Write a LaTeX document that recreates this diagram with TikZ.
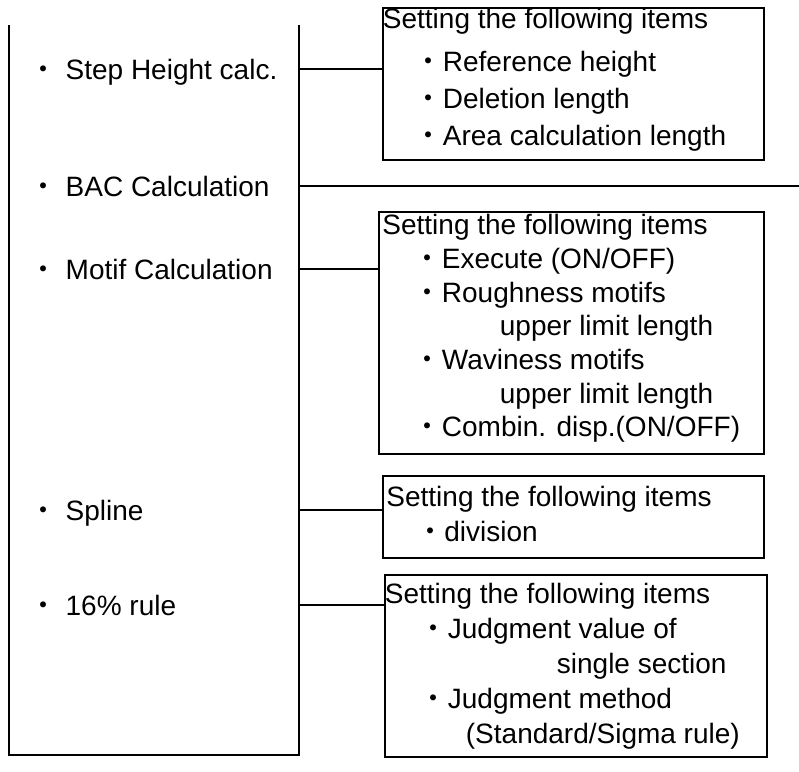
\documentclass[tikz,border=0pt]{standalone}
\usepackage{fontspec}
\setmainfont{Liberation Sans}
\newfontfamily\cjk{Noto Sans CJK JP}
\usetikzlibrary{positioning}
\newcommand{\jdot}{{\cjk ・}}

\begin{document}
\begin{tikzpicture}[x=1pt, y=-1pt, line width=1.8pt,
      every node/.style={inner sep=0pt, font=\fontsize{28}{35}\selectfont},
      item/.style={anchor=west, text height=20pt, text depth=0pt},
      setbox/.style={draw, anchor=north west},
      settxt/.style={anchor=north west, align=left}]
    \useasboundingbox (0,0) rectangle (799,771);
    \coordinate (brL) at (9,25);
    \coordinate (brR) at (299,25);
    \coordinate (BACend) at (799,186);
    \node[item] (SH) at (29,69) {\jdot\ Step Height calc.};
    \node[item] (BAC) at (29,186) {\jdot\ BAC Calculation};
    \node[item] (MC) at (29,269) {\jdot\ Motif Calculation};
    \node[item] (SP) at (29,510) {\jdot\ Spline};
    \node[item] (R16) at (29,605) {\jdot\ 16\% rule};
    \node[setbox, minimum width=381pt, minimum height=152pt] (SHbox) at (382,7) {};
    \node[setbox, minimum width=385pt, minimum height=242pt] (MCbox) at (378,211) {};
    \node[setbox, minimum width=381pt, minimum height=82pt] (SPbox) at (382,475) {};
    \node[setbox, minimum width=382pt, minimum height=182pt] (R16box) at (384,574) {};
    \node[settxt, font=\fontsize{28}{37}\selectfont] (SHtxt) at (SHbox.north west)
      {Setting the following items\\[6pt]
       \hspace*{32pt}\jdot Reference height\\
       \hspace*{32pt}\jdot Deletion length\\
       \hspace*{32pt}\jdot Area calculation length};
    \node[settxt, font=\fontsize{28}{33.7}\selectfont] (MCtxt) at ([xshift=3.5pt, yshift=-2.6pt]MCbox.north west)
      {Setting the following items\\
       \hspace*{31.5pt}\jdot Execute (ON/OFF)\\
       \hspace*{31.5pt}\jdot Roughness motifs\\
       \hspace*{117.5pt}upper limit length\\
       \hspace*{31.5pt}\jdot Waviness motifs\\
       \hspace*{117.5pt}upper limit length\\
       \hspace*{31.5pt}\jdot Combin. disp.(ON/OFF)};
    \node[settxt] (SPtxt) at ([xshift=3.5pt, yshift=-10pt]SPbox.north west)
      {Setting the following items\\
       \hspace*{30pt}\jdot division};
    \node[settxt] (R16txt) at ([yshift=-8.6pt]R16box.north west)
      {Setting the following items\\
       \hspace*{35pt}\jdot Judgment value of\\
       \hspace*{172pt}single section\\
       \hspace*{35pt}\jdot Judgment method\\
       \hspace*{81pt}(Standard/Sigma rule)};
    \draw (brL) -- ++(0,730) -| (brR);
    \draw (SH -| brR) -- (SH -| SHbox.west);
    \draw (BAC -| brR) -- (BACend);
    \draw (MC -| brR) -- (MC -| MCbox.west);
    \draw (SP -| brR) -- (SP -| SPbox.west);
    \draw (R16 -| brR) -- (R16 -| R16box.west);
  \end{tikzpicture}
\end{document}
